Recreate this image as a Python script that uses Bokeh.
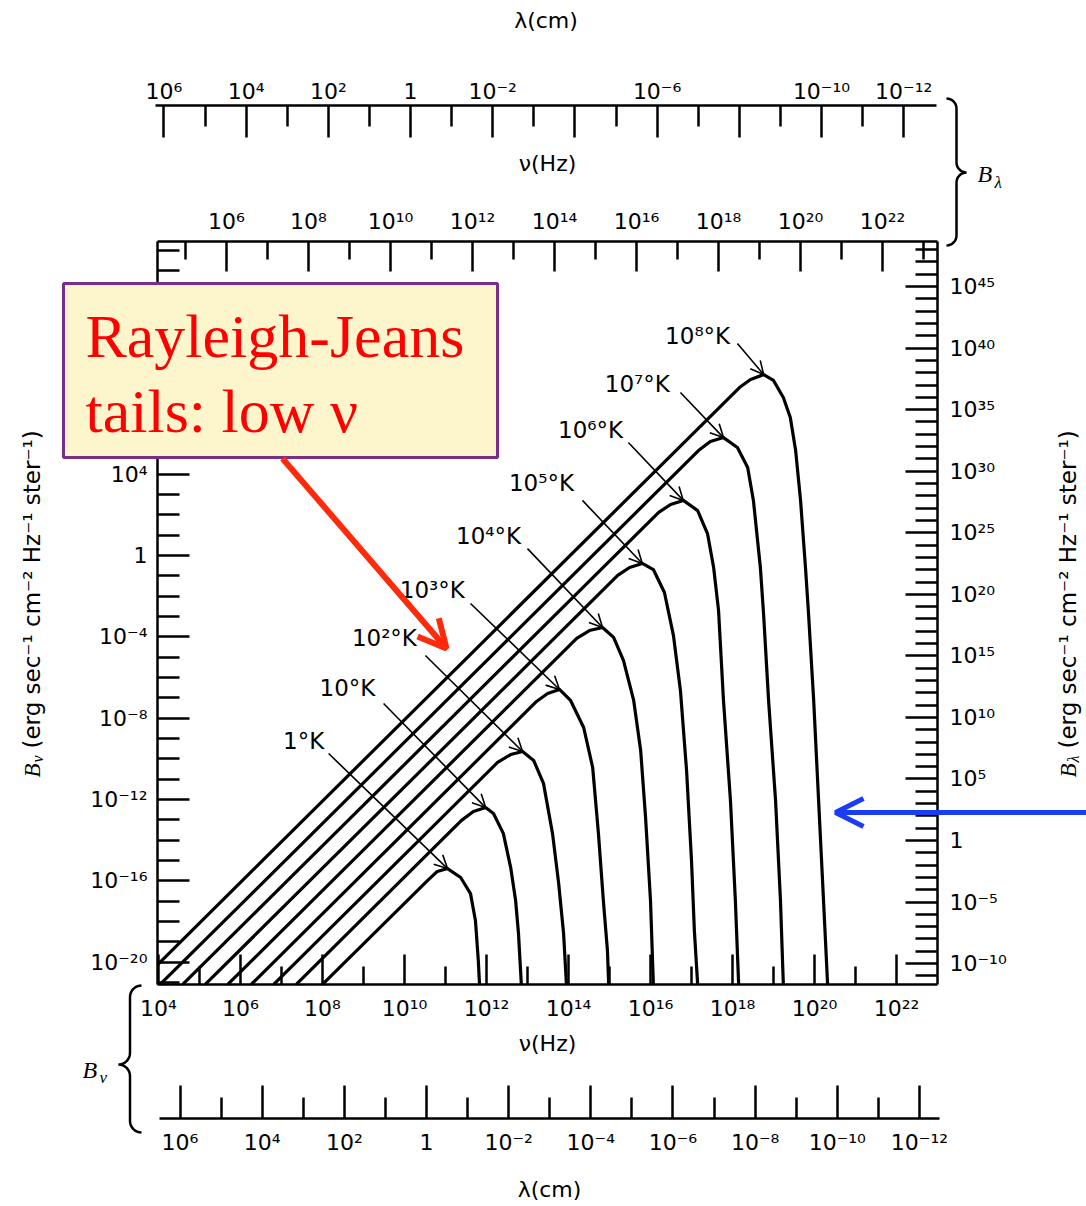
import numpy as np
from bokeh.plotting import figure
from bokeh.models import (Range1d, LinearAxis, FixedTicker, Label, Arrow, OpenHead,
                          BoxAnnotation, PolyAnnotation)
from bokeh.embed import file_html
from bokeh.resources import INLINE

# ---------------- data (log10 values) ----------------
temp_labels = ["1°K", "10°K", "10²°K", "10³°K", "10⁴°K", "10⁵°K", "10⁶°K", "10⁷°K", "10⁸°K"]

lognu_1K = [8.00, 10.56, 10.80, 11.05, 11.37, 11.61, 11.73, 11.80, 11.83]
logB_1K = [-21.10, -15.99, -15.54, -15.40, -15.84, -16.63, -17.95, -19.92, -21.10]

lognu_10K = [7.36, 11.39, 11.68, 11.98, 12.17, 12.41, 12.59, 12.71, 12.78, 12.85]
logB_10K = [-21.10, -13.03, -12.59, -12.40, -12.69, -13.67, -15.35, -16.97, -18.59, -21.10]

lognu_1e2K = [6.81, 12.27, 12.59, 12.88, 13.15, 13.39, 13.61, 13.76, 13.88, 13.95]
logB_1e2K = [-21.10, -10.18, -9.79, -9.64, -10.08, -11.21, -13.67, -16.13, -18.59, -21.10]

lognu_1e3K = [6.26, 13.22, 13.49, 13.78, 14.05, 14.37, 14.59, 14.73, 14.85, 14.95, 14.98]
logB_1e3K = [-21.10, -7.18, -6.79, -6.59, -7.13, -8.46, -10.43, -13.67, -16.97, -19.43, -21.10]

lognu_1e4K = [5.69, 14.20, 14.51, 14.83, 15.10, 15.34, 15.59, 15.76, 15.88, 16.00, 16.07]
logB_1e4K = [-21.10, -4.08, -3.69, -3.54, -4.03, -5.16, -7.13, -9.59, -12.89, -16.97, -21.10]

lognu_1e5K = [5.14, 15.20, 15.49, 15.80, 16.07, 16.34, 16.56, 16.73, 16.88, 17.00, 17.07, 17.15]
logB_1e5K = [-21.10, -0.98, -0.59, -0.39, -0.69, -1.82, -3.94, -6.64, -10.58, -15.00, -18.45, -21.10]

lognu_1e6K = [4.59, 16.20, 16.49, 16.80, 17.15, 17.39, 17.54, 17.66, 17.78, 17.95, 18.07, 18.15]
logB_1e6K = [-21.10, 2.12, 2.51, 2.71, 2.21, 1.08, -0.59, -2.71, -7.13, -12.05, -16.97, -21.10]

lognu_1e7K = [4.04, 17.17, 17.46, 17.78, 18.12, 18.37, 18.51, 18.68, 18.76, 18.88, 19.05, 19.17, 19.24]
logB_1e7K = [-21.10, 5.16, 5.61, 5.80, 5.31, 4.33, 2.71, -0.59, -2.95, -7.13, -12.05, -16.97, -21.10]

lognu_1e8K = [3.98, 18.17, 18.44, 18.76, 19.00, 19.24, 19.41, 19.54, 19.66, 19.78, 19.85, 19.98, 20.10, 20.22, 20.32]
logB_1e8K = [-20.12, 8.26, 8.66, 8.90, 8.61, 7.77, 6.79, 5.16, 2.71, -0.59, -2.71, -7.13, -12.05, -16.97, -21.10]

curves = [(lognu_1K, logB_1K), (lognu_10K, logB_10K), (lognu_1e2K, logB_1e2K),
          (lognu_1e3K, logB_1e3K), (lognu_1e4K, logB_1e4K), (lognu_1e5K, logB_1e5K),
          (lognu_1e6K, logB_1e6K), (lognu_1e7K, logB_1e7K), (lognu_1e8K, logB_1e8K)]

# temperature label anchors and pointer starts (log nu, log B_nu)
label_lognu = [7.54, 8.61, 9.51, 10.68, 12.05, 13.34, 14.54, 15.68, 17.15]
label_logB = [-9.10, -6.54, -4.08, -1.72, 0.98, 3.59, 6.15, 8.46, 10.82]
pointer_lognu = [8.15, 9.49, 10.51, 11.61, 13.00, 14.34, 15.46, 16.73, 18.12]
pointer_logB = [-9.74, -7.28, -4.92, -2.36, 0.34, 2.71, 5.56, 8.02, 10.43]

# axis ticks (exponents) and labels
nu_bottom_exp = [4, 6, 8, 10, 12, 14, 16, 18, 20, 22]
nu_bottom_labels = ["10⁴", "10⁶", "10⁸", "10¹⁰", "10¹²", "10¹⁴", "10¹⁶", "10¹⁸", "10²⁰", "10²²"]
nu_top_exp = [6, 8, 10, 12, 14, 16, 18, 20, 22]
nu_top_labels = ["10⁶", "10⁸", "10¹⁰", "10¹²", "10¹⁴", "10¹⁶", "10¹⁸", "10²⁰", "10²²"]
lam_exp = [6, 4, 2, 0, -2, -4, -6, -8, -10, -12]
lam_top_labels = ["10⁶", "10⁴", "10²", "1", "10⁻²", "", "10⁻⁶", "", "10⁻¹⁰", "10⁻¹²"]
lam_bottom_labels = ["10⁶", "10⁴", "10²", "1", "10⁻²", "10⁻⁴", "10⁻⁶", "10⁻⁸", "10⁻¹⁰", "10⁻¹²"]
bnu_exp = [12, 8, 4, 0, -4, -8, -12, -16, -20]
bnu_labels = ["10¹²", "10⁸", "10⁴", "1", "10⁻⁴", "10⁻⁸", "10⁻¹²", "10⁻¹⁶", "10⁻²⁰"]
blam_exp = [45, 40, 35, 30, 25, 20, 15, 10, 5, 0, -5, -10]
blam_labels = ["10⁴⁵", "10⁴⁰", "10³⁵", "10³⁰", "10²⁵", "10²⁰", "10¹⁵", "10¹⁰", "10⁵", "1", "10⁻⁵", "10⁻¹⁰"]

# ---------------- layout (canvas pixels) ----------------
W, H = 1086, 1206
FL, FR, FT, FB = 157, 937, 241, 984          # plot box edges


def xv(px):            # canvas x pixel -> log10(nu) (bottom scale)
    return 4 + (px - 158) / 41.0


def yv(py):            # canvas y pixel -> log10(B_nu)
    return (555 - py) / 20.33


def base(py, size):    # compensate Bokeh's alphabetic anchor so the baseline lands at py
    return py - 0.37 * size


p = figure(width=W, height=H, output_backend="svg", toolbar_location=None, title=None,
           x_range=Range1d(xv(0), xv(W)), y_range=Range1d(yv(H), yv(0)),
           x_axis_type=None, y_axis_type=None, min_border=0)
p.min_border_left = p.min_border_right = p.min_border_top = p.min_border_bottom = 0
p.outline_line_color = None
p.background_fill_color = "white"
p.border_fill_color = "white"
# other scales of the chart, expressed over the same canvas
p.extra_x_ranges = {"nu_top": Range1d(6 - 226 / 41.0, 6 + (W - 226) / 41.0),
                    "lam_top": Range1d(410 / 41.1, (410 - W) / 41.1),
                    "lam_bot": Range1d(426 / 41.08, (426 - W) / 41.08)}
p.extra_y_ranges = {"blam": Range1d((840 - H) / 12.309, 840 / 12.309)}

FONT = "DejaVu Sans"


def make_axis(dim, range_name, ticks, minor, labels, major_in, minor_in, loc, bounds,
              standoff=6, title="", title_standoff=10, lw=2.5):
    kw = {}
    if range_name:
        kw["x_range_name" if dim == "x" else "y_range_name"] = range_name
    ax = LinearAxis(ticker=FixedTicker(ticks=list(ticks), minor_ticks=list(minor)),
                    fixed_location=loc, bounds=bounds, **kw)
    ax.major_label_overrides = {t: l for t, l in zip(ticks, labels)}
    ax.major_tick_in = major_in
    ax.major_tick_out = 0
    ax.minor_tick_in = minor_in
    ax.minor_tick_out = 0
    ax.axis_line_width = lw
    ax.major_tick_line_width = lw
    ax.minor_tick_line_width = lw
    ax.axis_line_color = "black"
    ax.major_tick_line_color = "black"
    ax.minor_tick_line_color = "black"
    ax.major_label_text_font = FONT
    ax.major_label_text_font_size = "22px"
    ax.major_label_text_color = "black"
    ax.major_label_standoff = standoff
    if title:
        ax.axis_label = title
        ax.axis_label_text_font = FONT
        ax.axis_label_text_font_size = "22px"
        ax.axis_label_text_font_style = "normal"
        ax.axis_label_text_color = "black"
        ax.axis_label_standoff = title_standoff
    return ax


odd_lam = [5, 3, 1, -1, -3, -5, -7, -9, -11]

bottom_nu = make_axis("x", None, nu_bottom_exp, list(range(5, 23, 2)), nu_bottom_labels, 30, 18,
                      yv(FB), (xv(FL), xv(FR)), standoff=11, title="ν(Hz)", title_standoff=7)
bottom_lam = make_axis("x", "lam_bot", lam_exp, odd_lam, lam_bottom_labels, 33, 21,
                       yv(1118), ((426 - 939) / 41.08, (426 - 159) / 41.08),
                       standoff=11, title="λ(cm)", title_standoff=19)
top_nu = make_axis("x", "nu_top", nu_top_exp, list(range(5, 24, 2)), nu_top_labels, 30, 18,
                   yv(FT), (6 + (FL - 226) / 41.0, 6 + (FR - 226) / 41.0),
                   standoff=8, title="ν(Hz)", title_standoff=30)
top_lam = make_axis("x", "lam_top", lam_exp, odd_lam, lam_top_labels, 32, 21,
                    yv(105), ((410 - 936) / 41.1, (410 - 155) / 41.1),
                    standoff=2, title="λ(cm)", title_standoff=43)
left_ax = make_axis("y", None, bnu_exp, [v for v in range(-21, 16) if v % 4 != 0],
                    bnu_labels, 32, 22, xv(FL), (yv(FB), yv(FT)), standoff=10)
right_ax = make_axis("y", "blam", blam_exp, [v for v in range(-11, 49) if v % 5 != 0],
                     blam_labels, 32, 22, xv(FR), ((840 - FB) / 12.309, (840 - FT) / 12.309),
                     standoff=12)

p.add_layout(bottom_nu, "below")
p.add_layout(bottom_lam, "below")
p.add_layout(top_nu, "above")
p.add_layout(top_lam, "above")
p.add_layout(left_ax, "left")
p.add_layout(right_ax, "right")

# ---------------- curves ----------------
for nx, by in curves:
    p.line(nx, by, line_color="black", line_width=3.2, line_join="round")

# temperature labels with pointers to the peaks
for i, (nx, by) in enumerate(curves):
    k = int(np.argmax(by))
    p.add_layout(Label(x=label_lognu[i], y=label_logB[i], text=temp_labels[i],
                       text_align="center", text_baseline="middle",
                       text_font=FONT, text_font_size="23px", text_color="black"))
    p.add_layout(Arrow(x_start=pointer_lognu[i], y_start=pointer_logB[i],
                       x_end=nx[k], y_end=by[k], line_color="black", line_width=1.6,
                       end=OpenHead(size=13, line_color="black", line_width=1.6)))

# ---------------- annotation box ----------------
p.add_layout(BoxAnnotation(left=xv(63), right=xv(497), top=yv(283), bottom=yv(457),
                           fill_color="#fdf5cc", fill_alpha=1.0,
                           line_color="#7b2d8b", line_width=3, line_alpha=1.0))
for txt, py in [("Rayleigh-Jeans", 358), ("tails: low ν", 433)]:
    p.add_layout(Label(x=xv(85), y=yv(base(py, 62)), text=txt, text_align="left",
                       text_baseline="alphabetic", text_font="Liberation Serif",
                       text_font_size="62px", text_color="#ff0000"))

p.add_layout(Arrow(x_start=xv(282), y_start=yv(458), x_end=xv(446), y_end=yv(648),
                   line_color="#ff2a0a", line_width=6,
                   end=OpenHead(size=28, line_color="#ff2a0a", line_width=6)))
p.add_layout(Arrow(x_start=xv(1095), y_start=yv(812), x_end=xv(835), y_end=yv(812),
                   line_color="#1a3cf2", line_width=5,
                   end=OpenHead(size=28, line_color="#1a3cf2", line_width=5)))


# ---------------- braces ----------------
def brace(x_base, x_tip, y_top, y_bot, y_mid):
    s = 1 if x_tip > x_base else -1
    r = abs(x_tip - x_base) / 2.0
    t = np.linspace(0, np.pi / 2, 9)
    pts = []
    pts += [(x_base + s * r * np.sin(a), y_top + r - r * np.cos(a)) for a in t]
    xc = x_base + 2 * s * r
    pts += [(xc - s * r * np.cos(a), y_mid - r + r * np.sin(a)) for a in t]
    pts += [(xc - s * r * np.sin(a), y_mid + r - r * np.cos(a)) for a in t]
    pts += [(x_base + s * r * np.cos(a), y_bot - r + r * np.sin(a)) for a in t]
    xs = [xv(a) for a, _ in pts]
    ys = [yv(b) for _, b in pts]
    return PolyAnnotation(xs=xs + xs[::-1], ys=ys + ys[::-1], fill_color=None,
                          fill_alpha=0, line_color="black", line_alpha=1.0, line_width=2.5)


p.add_layout(brace(946, 966, 98, 245, 172))
p.add_layout(brace(141, 118, 985, 1132, 1064))

for txt, px, py, size in [("B", 977, 182, 24), ("λ", 994, 188, 17),
                          ("B", 82, 1078, 24), ("ν", 99, 1083, 17)]:
    p.add_layout(Label(x=xv(px), y=yv(base(py, size)), text=txt, text_align="left",
                       text_baseline="alphabetic", text_font="Liberation Serif",
                       text_font_style="italic", text_font_size=f"{size}px",
                       text_color="black"))

# ---------------- vertical axis titles (read bottom to top) ----------------
for base_x, sub in [(40, "ν"), (1076, "λ")]:
    bx = base_x - 0.37 * 22
    p.add_layout(Label(x=xv(bx), y=yv(777), text="B", angle=np.pi / 2,
                       text_align="left", text_baseline="alphabetic",
                       text_font="Liberation Serif", text_font_style="italic",
                       text_font_size="23px", text_color="black"))
    p.add_layout(Label(x=xv(bx + 5), y=yv(762), text=sub, angle=np.pi / 2,
                       text_align="left", text_baseline="alphabetic",
                       text_font="Liberation Serif", text_font_style="italic",
                       text_font_size="16px", text_color="black"))
    p.add_layout(Label(x=xv(bx), y=yv(748), text="(erg sec⁻¹ cm⁻² Hz⁻¹ ster⁻¹)",
                       angle=np.pi / 2, text_align="left", text_baseline="alphabetic",
                       text_font=FONT, text_font_size="23px", text_color="black"))

open("out.html", "w").write(file_html(p, INLINE))
